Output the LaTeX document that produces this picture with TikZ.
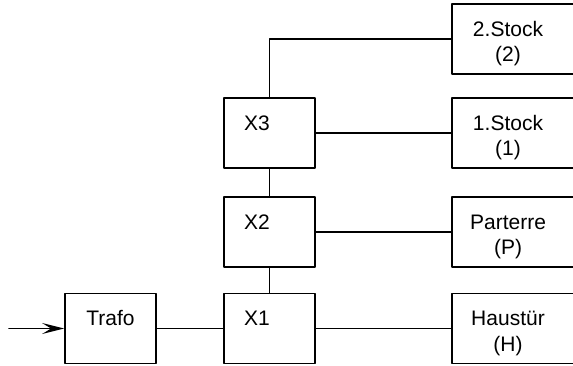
\documentclass[tikz,border=0pt]{standalone}
\usepackage{fontspec}
\setmainfont{Liberation Sans}
\usetikzlibrary{arrows.meta}

\begin{document}
\begin{tikzpicture}[line cap=round,line join=round,x=1pt,y=-1pt,
    blk/.style={draw,line width=1.8pt,minimum width=91pt,minimum height=70pt,inner sep=0pt},
    wide/.style={blk,minimum width=130pt},
    txt/.style={font=\fontsize{21}{25.5}\selectfont,inner sep=0pt,anchor=base,align=center},
    wire/.style={line width=1.7pt}]
		\useasboundingbox (0,0) rectangle (573,365);
		\clip (0,0) rectangle (573,365);
		% boxes
		\node[blk] (trafo) at (110.5,328.5) {};
		\node[blk] (x1) at (269.5,328.5) {};
		\node[blk] (x2) at (269.5,232) {};
		\node[blk] (x3) at (269.5,133) {};
		\node[wide] (haus) at (517,328.5) {};
		\node[wide] (part) at (517,232) {};
		\node[wide] (st1) at (517,133) {};
		\node[wide] (st2) at (517,39) {};
		% texts (base = last line)
		\node[txt] (ttrafo) at (110.5,325.5) {Trafo};
		\node[txt] (tx1) at (257,325.5) {X1};
		\node[txt] (tx2) at (257,229) {X2};
		\node[txt] (tx3) at (257,130) {X3};
		\node[txt] (thaus) at (508,351) {Haustür\\(H)};
		\node[txt] (tpart) at (508,254.5) {Parterre\\(P)};
		\node[txt] (tst1) at (508,155.5) {1.Stock\\(1)};
		\node[txt] (tst2) at (508,61.5) {2.Stock\\(2)};
		% wires
		\coordinate (in) at (9,328.5);
		\draw[wire,-{Stealth[length=22pt,width=11pt,inset=9pt]}] (in) -- (trafo.west);
		\draw[wire] (trafo.east) -- (x1.west);
		\draw[wire] (x1.east) -- (haus.west);
		\draw[wire] (x2.east) -- (part.west);
		\draw[wire] (x3.east) -- (st1.west);
		\draw[wire] (x1.north) -- (x2.south);
		\draw[wire] (x2.north) -- (x3.south);
		\draw[wire] (x3.north) |- (st2.west);
	\end{tikzpicture}
\end{document}
